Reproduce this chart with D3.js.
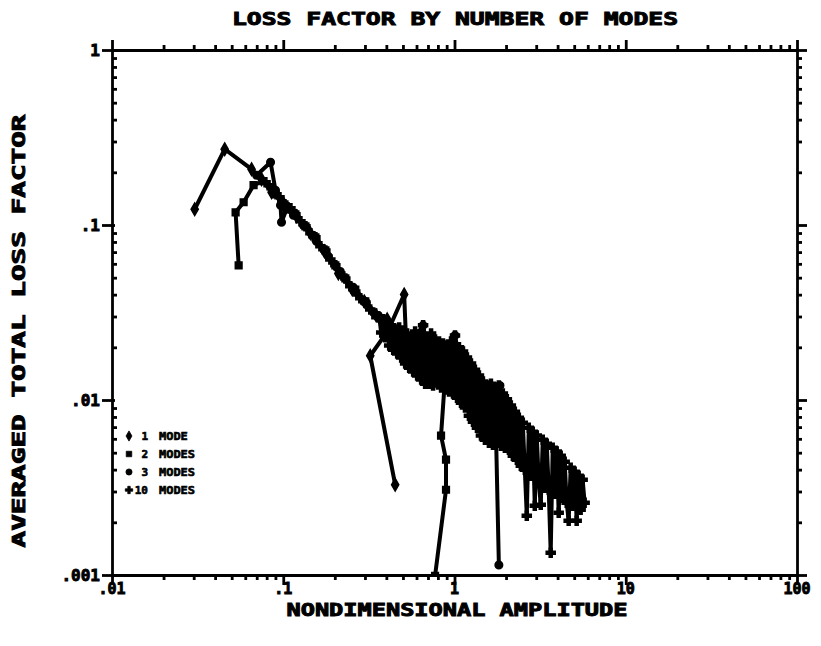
<!DOCTYPE html>
<html>
<head>
<meta charset="utf-8">
<script src="https://cdn.jsdelivr.net/npm/d3@7"></script>
<style>
  body { margin: 0; background: #fff; }
  svg { display: block; }
  text { font-family: "DejaVu Sans Mono", monospace; font-weight: bold; fill: #000; stroke: #000; stroke-width: 0.9px; }
</style>
</head>
<body>
<svg id="chart" width="821" height="646"></svg>
<script>
// Axis ticks and labels
const xTickValues = [0.01, 0.1, 1, 10, 100];
const xTickLabels = [".01", ".1", "1", "10", "100"];
const yTickValues = [1, 0.1, 0.01, 0.001];
const yTickLabels = ["1", ".1", ".01", ".001"];

// Series names (legend)
const seriesNames = ["1 MODE", "2 MODES", "3 MODES", "10 MODES"];
const seriesNumbers = ["1", "2", "3", "10"];
const seriesWords = ["MODE", "MODES", "MODES", "MODES"];

// 1 mode
const mode1X = [0.0304, 0.0455, 0.0653, 0.0747, 0.0855, 0.1003, 0.1194, 0.1441, 0.1739, 0.2098,
                0.2531, 0.2972, 0.3491, 0.4046, 0.4688, 0.522, 0.5082, 0.41, 0.3221, 0.4503];
const mode1Y = [0.123, 0.2713, 0.2084, 0.1826, 0.1539, 0.1331, 0.1121, 0.0897, 0.0707, 0.0529,
                0.0428, 0.0366, 0.0304, 0.0289, 0.0237, 0.0213, 0.0401, 0.025, 0.0179, 0.00328];

// 2 modes
const mode2X = [0.0549, 0.0527, 0.0587, 0.0671, 0.0767, 0.0889, 0.1017, 0.1178, 0.1348, 0.1541,
                0.1762, 0.2015, 0.2304, 0.2635, 0.3013, 0.3444, 0.3834, 0.4269, 0.4752, 0.529,
                0.5888, 0.6556, 0.7106, 0.77, 0.8234, 0.8803, 0.8345, 0.8921, 0.8921, 0.77];
const mode2Y = [0.0588, 0.1182, 0.1349, 0.1688, 0.1779, 0.1519, 0.1314, 0.1151, 0.0983, 0.085,
                0.0716, 0.0588, 0.0495, 0.0428, 0.0366, 0.0304, 0.0267, 0.0228, 0.02, 0.0182,
                0.0213, 0.0164, 0.0194, 0.0153, 0.0175, 0.0134, 0.00626, 0.00456, 0.00307, 0.00099];

// 3 modes
const mode3X = [0.0699, 0.0843, 0.0901, 0.0964, 0.0977, 0.1044, 0.1147, 0.1312, 0.1562, 0.1834,
                0.2154, 0.2565, 0.3053, 0.3586, 0.4046, 0.4564, 0.5013, 0.5508, 0.5967, 0.6556,
                0.7012, 0.77, 0.8457, 0.9167, 1.0067, 1.077, 1.167, 1.282, 1.389, 1.526,
                1.676, 1.84, 1.916, 1.744, 1.816];
const mode3Y = [0.1925, 0.2285, 0.158, 0.1297, 0.1036, 0.123, 0.1136, 0.0996, 0.0807, 0.0662,
                0.0543, 0.044, 0.0361, 0.0304, 0.026, 0.0213, 0.0243, 0.02, 0.0234, 0.0267,
                0.0187, 0.0213, 0.0175, 0.02, 0.0234, 0.0164, 0.0144, 0.0126, 0.0134, 0.011,
                0.0118, 0.0121, 0.00966, 0.00695, 0.00114];

// 10 modes
const mode10X = [0.0821, 0.0889, 0.0951, 0.1017, 0.1102, 0.1178, 0.126, 0.1348, 0.1441, 0.1541,
                 0.1648, 0.1762, 0.1884, 0.2015, 0.2154, 0.2304, 0.2464, 0.2635, 0.2818, 0.3013,
                 0.3221, 0.3444,
                 0.3635, 0.3733, 0.3834, 0.3938, 0.4046, 0.4156, 0.4269, 0.4385, 0.4503, 0.4626,
                 0.4752, 0.4881, 0.5013, 0.515, 0.529, 0.5434, 0.5582, 0.5734, 0.5888, 0.6049,
                 0.6213, 0.6381, 0.6556, 0.6734, 0.6918, 0.7106, 0.7299, 0.7495, 0.77, 0.7909,
                 0.8124, 0.8345, 0.857, 0.8803, 0.9043, 0.929, 0.9541, 0.98, 1.0067, 1.034,
                 1.062, 1.091, 1.121, 1.151, 1.182, 1.214, 1.248, 1.282, 1.316, 1.352,
                 1.389, 1.427, 1.466, 1.505, 1.546, 1.588, 1.632, 1.676, 1.721, 1.768,
                 1.816, 1.866, 1.916, 1.968, 2.022, 2.077, 2.133, 2.191, 2.251, 2.312,
                 2.375, 2.439, 2.505, 2.574, 2.643, 2.715, 2.789, 2.865, 2.943, 3.023,
                 3.105, 3.189, 3.276, 3.365, 3.457, 3.55, 3.646, 3.745, 3.848, 3.952,
                 4.059, 4.17, 4.283, 4.399, 4.519, 4.642, 4.769, 4.898, 5.031, 5.168,
                 5.308, 5.452, 5.601, 5.753];
const mode10Y = [0.1688, 0.1519, 0.1441, 0.1314, 0.1246, 0.1151, 0.105, 0.0983, 0.0897, 0.085,
                 0.0755, 0.0716, 0.0636, 0.0588, 0.0529, 0.0495, 0.0446, 0.0417, 0.0381, 0.0361,
                 0.0329, 0.0312,
                 0.02962, 0.0243, 0.0289, 0.0228, 0.02773, 0.0205, 0.0267, 0.0194, 0.0253, 0.01843,
                 0.026, 0.0175, 0.0246, 0.01616, 0.024, 0.0153, 0.0228, 0.01454, 0.0246, 0.0138,
                 0.0234, 0.0131, 0.0267, 0.0124, 0.0228, 0.0124, 0.024, 0.0121, 0.02216, 0.01274,
                 0.02159, 0.0118, 0.02102, 0.0115, 0.0205, 0.01117, 0.02159, 0.01088, 0.0234, 0.0103,
                 0.02, 0.00966, 0.01892, 0.00905, 0.0175, 0.00814, 0.01616, 0.00752, 0.0149, 0.00695,
                 0.0138, 0.00626, 0.01274, 0.00593, 0.0121, 0.0057, 0.0124, 0.005555, 0.0118, 0.00578,
                 0.0121, 0.00548, 0.01088, 0.00534, 0.0101, 0.0052, 0.00929, 0.0048, 0.00858, 0.00456,
                 0.00793, 0.00421, 0.00742, 0.004, 0.00218, 0.00695, 0.00369, 0.00659, 0.00249, 0.00626,
                 0.00341, 0.00252, 0.00593, 0.00315, 0.00563, 0.00307, 0.00134, 0.00534, 0.00291, 0.00507,
                 0.00227, 0.0048, 0.00276, 0.00444, 0.00259, 0.00204, 0.0041, 0.00249, 0.00389, 0.00204,
                 0.00369, 0.00236, 0.0035, 0.00259];

const series = [
  { name: seriesNames[0], xs: mode1X, ys: mode1Y, symbol: d3.symbolDiamond },
  { name: seriesNames[1], xs: mode2X, ys: mode2Y, symbol: d3.symbolSquare },
  { name: seriesNames[2], xs: mode3X, ys: mode3Y, symbol: d3.symbolCircle },
  { name: seriesNames[3], xs: mode10X, ys: mode10Y, symbol: d3.symbolCross }
];

const svg = d3.select("#chart");
const frame = { left: 112, right: 797, top: 50, bottom: 575 };

const x = d3.scaleLog().domain([0.01, 100]).range([frame.left, frame.right]);
const y = d3.scaleLog().domain([0.001, 1]).range([frame.bottom, frame.top]);

const allXTicks = x.ticks();
const allYTicks = y.ticks();
const isMajor = v => Math.abs(Math.log10(v) - Math.round(Math.log10(v))) < 1e-9;

function styleAxis(g) {
  g.selectAll("path.domain").attr("stroke", "#000").attr("stroke-width", 2.8);
  g.selectAll(".tick line").attr("stroke", "#000").attr("stroke-width", 2.8);
  g.selectAll(".tick text").remove();
}

// bottom axis (ticks hang below)
const gB = svg.append("g").attr("transform", `translate(0,${frame.bottom})`)
  .call(d3.axisBottom(x).tickValues(allXTicks).tickSizeInner(5).tickSizeOuter(0).tickFormat(""));
styleAxis(gB);
gB.selectAll(".tick line").filter(isMajor).attr("y2", 10);

// top axis (ticks point up)
const gT = svg.append("g").attr("transform", `translate(0,${frame.top})`)
  .call(d3.axisTop(x).tickValues(allXTicks).tickSizeInner(5).tickSizeOuter(0).tickFormat(""));
styleAxis(gT);
gT.selectAll(".tick line").filter(isMajor).attr("y2", -10);

// right axis (ticks point right)
const gR = svg.append("g").attr("transform", `translate(${frame.right},0)`)
  .call(d3.axisRight(y).tickValues(allYTicks).tickSizeInner(5).tickSizeOuter(0).tickFormat(""));
styleAxis(gR);
gR.selectAll(".tick line").filter(isMajor).attr("x2", 10);

// left axis (minor ticks inside, major ticks outside)
const gL = svg.append("g").attr("transform", `translate(${frame.left},0)`)
  .call(d3.axisLeft(y).tickValues(allYTicks).tickSizeInner(-5).tickSizeOuter(0).tickFormat(""));
styleAxis(gL);
gL.selectAll(".tick line").filter(isMajor).attr("x1", 3).attr("x2", -10);

// tick labels
svg.append("g").selectAll("text").data(xTickValues).join("text")
  .attr("x", d => x(d)).attr("y", frame.bottom + 19)
  .attr("text-anchor", "middle").attr("font-size", 15)
  .text((d, i) => xTickLabels[i]);

svg.append("g").selectAll("text").data(yTickValues).join("text")
  .attr("x", frame.left - 12).attr("y", d => y(d) + 6)
  .attr("text-anchor", "end").attr("font-size", 16)
  .text((d, i) => yTickLabels[i]);

// titles
svg.append("text").attr("x", 455).attr("y", 25).attr("text-anchor", "middle")
  .attr("font-size", 17).attr("textLength", 446).attr("lengthAdjust", "spacingAndGlyphs")
  .text("LOSS FACTOR BY NUMBER OF MODES");

svg.append("text").attr("x", 457).attr("y", 616).attr("text-anchor", "middle")
  .attr("font-size", 17).attr("textLength", 341).attr("lengthAdjust", "spacingAndGlyphs")
  .text("NONDIMENSIONAL AMPLITUDE");

svg.append("text").attr("transform", "translate(25,331) rotate(-90)").attr("text-anchor", "middle")
  .attr("font-size", 18).attr("textLength", 433).attr("lengthAdjust", "spacingAndGlyphs")
  .text("AVERAGED TOTAL LOSS FACTOR");

// data
svg.append("clipPath").attr("id", "plotClip")
  .append("rect").attr("x", frame.left).attr("y", frame.top)
  .attr("width", frame.right - frame.left).attr("height", frame.bottom - frame.top);

const plot = svg.append("g").attr("clip-path", "url(#plotClip)");
const line = d3.line().x(d => x(d[0])).y(d => y(d[1]));

series.forEach(s => {
  const pts = s.xs.map((v, i) => [v, s.ys[i]]);
  plot.append("path").datum(pts)
    .attr("d", line).attr("fill", "none").attr("stroke", "#000")
    .attr("stroke-width", 4).attr("stroke-linejoin", "round").attr("stroke-linecap", "round");
  plot.append("g").selectAll("path").data(pts).join("path")
    .attr("transform", d => `translate(${x(d[0])},${y(d[1])})`)
    .attr("d", d3.symbol().type(s.symbol).size(45))
    .attr("fill", "#000").attr("stroke", "#000").attr("stroke-width", 1.5);
});

// legend
const legend = svg.append("g");
const rowY = [436, 454, 472, 490];
series.forEach((s, i) => {
  legend.append("path")
    .attr("transform", `translate(129,${rowY[i]})`)
    .attr("d", d3.symbol().type(s.symbol).size(30))
    .attr("fill", "#000").attr("stroke", "#000").attr("stroke-width", 0.8);
  legend.append("text").attr("x", 148).attr("y", rowY[i] + 4)
    .attr("text-anchor", "end").attr("font-size", 11).style("stroke-width", "0.6px")
    .text(seriesNumbers[i]);
  legend.append("text").attr("x", 159).attr("y", rowY[i] + 4)
    .attr("font-size", 11).attr("textLength", seriesWords[i].length * 7.2)
    .attr("lengthAdjust", "spacingAndGlyphs").style("stroke-width", "0.6px")
    .text(seriesWords[i]);
});
</script>
</body>
</html>
